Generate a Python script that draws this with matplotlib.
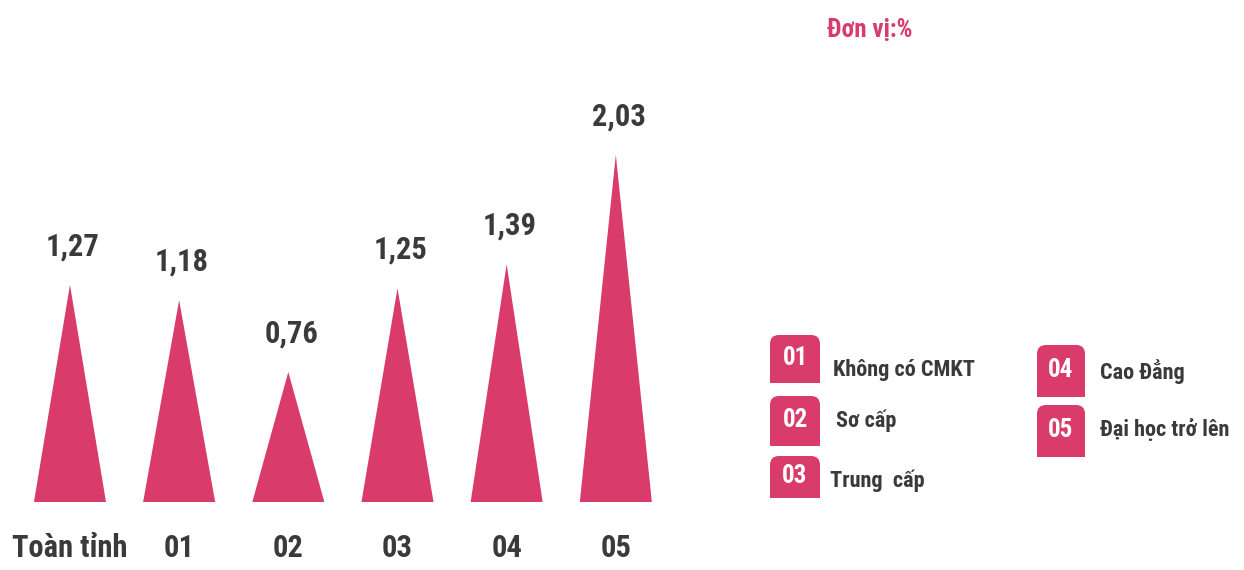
import matplotlib
matplotlib.use('Agg')
import matplotlib.pyplot as plt
from matplotlib import font_manager
from matplotlib.patches import Polygon, FancyBboxPatch, Rectangle

# data
categories = ['Toàn tỉnh', '01', '02', '03', '04', '05']
values = [1.27, 1.18, 0.76, 1.25, 1.39, 2.03]
labels = ['1,27', '1,18', '0,76', '1,25', '1,39', '2,03']
legend_codes = ['01', '02', '03', '04', '05']
legend_names = ['Không có CMKT', 'Sơ cấp', 'Trung  cấp', 'Cao Đẳng', 'Đại học trở lên']
unit_text = 'Đơn vị:%'

PINK = '#D93B6B'
DARK = '#3A3A3A'

# pick a narrow bold font if there is one
installed = {f.name for f in font_manager.fontManager.ttflist}
font = 'DejaVu Sans'
for name in ['Roboto Condensed', 'Liberation Sans Narrow', 'DejaVu Sans Condensed',
             'Open Sans Condensed', 'Roboto']:
    if name in installed:
        font = name
        break
plt.rcParams['font.family'] = [font, 'DejaVu Sans']
plt.rcParams['font.weight'] = 'bold'

fig = plt.figure(figsize=(12.44, 5.70), dpi=100)

# chart axes: x=0 at px 70, 109.2 px per category; y=0 at px 502, 171 px per unit
ax = fig.add_axes([0, 68 / 570, 725 / 1244, 2.6 * 171 / 570])
ax.set_xlim(-0.641, 6.0)
ax.set_ylim(0, 2.6)
ax.axis('off')

half = 0.33
for i, (v, lab, cat) in enumerate(zip(values, labels, categories)):
    ax.add_patch(Polygon([(i - half, 0), (i, v), (i + half, 0)], closed=True,
                         facecolor=PINK, edgecolor='none'))
    ax.annotate(lab, (i, v), xytext=(2, 17), textcoords='offset points',
                ha='center', va='bottom', fontsize=22, color=DARK, fontweight='bold')
    ax.text(i, -0.27, cat, ha='center', va='center', fontsize=22,
            color=DARK, fontweight='bold', clip_on=False)

# overlay in pixel coordinates for legend + unit note
ov = fig.add_axes([0, 0, 1, 1])
ov.set_xlim(0, 1244)
ov.set_ylim(570, 0)
ov.axis('off')

ov.text(870, 29, unit_text, ha='center', va='center', fontsize=18,
        color=PINK, fontweight='bold')

boxes = [(770, 335, 50, 48), (770, 396, 50, 50), (770, 456, 50, 42),
         (1037, 345, 48, 52), (1037, 405, 48, 52)]
text_pos = [(833, 370), (836, 421), (830, 481), (1100, 372), (1100, 430)]
for code, name, (bx, by, bw, bh), (tx, ty) in zip(legend_codes, legend_names, boxes, text_pos):
    ov.add_patch(FancyBboxPatch((bx, by), bw, bh, boxstyle='round,pad=0,rounding_size=9',
                                facecolor=PINK, edgecolor='none'))
    ov.add_patch(Rectangle((bx, by + bh / 2), bw, bh / 2, facecolor=PINK, edgecolor='none'))
    ov.text(bx + bw / 2, by + bh / 2 - 1, code, ha='center', va='center',
            fontsize=18, color='white', fontweight='bold')
    ov.text(tx, ty, name, ha='left', va='center', fontsize=16,
            color=DARK, fontweight='bold')

fig.savefig('out.png', dpi=100, facecolor='white')
